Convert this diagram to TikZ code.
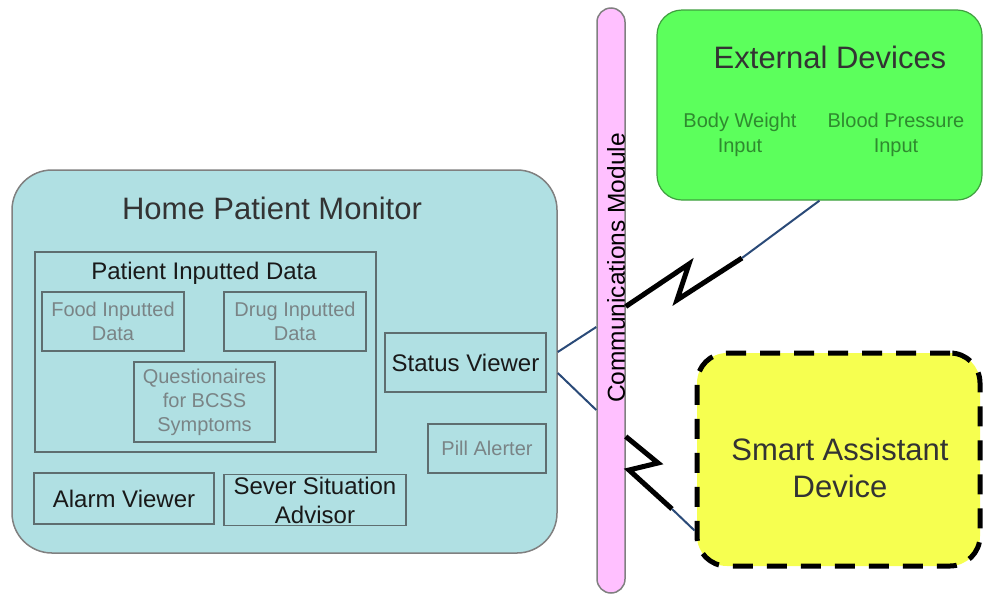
\documentclass[tikz,border=0pt]{standalone}
\usepackage{fontspec}
\setmainfont{Liberation Sans}
\usetikzlibrary{calc}
\definecolor{monfill}{HTML}{B0E0E3}
\definecolor{boxline}{HTML}{5E6E70}
\definecolor{softtext}{HTML}{7A8486}
\definecolor{commfill}{HTML}{FFC0FF}
\definecolor{extfill}{HTML}{5CFF5C}
\definecolor{extline}{HTML}{3F9F3F}
\definecolor{exttext}{HTML}{2F8A2F}
\definecolor{smartfill}{HTML}{F6FF50}
\definecolor{linkblue}{HTML}{2A4A78}
\tikzset{
  monbox/.style={draw=gray, line width=1.5pt, fill=monfill, rounded corners=40pt},
  partbox/.style={draw=boxline, line width=1.5pt, align=center, inner sep=0pt,
    text=black!90, font=\fontsize{24}{29}\selectfont},
  softbox/.style={partbox, text=softtext, font=\fontsize{20}{24}\selectfont},
  bigtitle/.style={text=black!80, font=\fontsize{31}{37}\selectfont},
  commbar/.style={draw=gray, line width=1.5pt, fill=commfill, rounded corners=14pt},
  extbox/.style={draw=extline, line width=1.2pt, fill=extfill, rounded corners=25pt},
  exttag/.style={text=exttext, align=center, font=\fontsize{20}{25}\selectfont},
  smartbox/.style={draw=black, line width=5pt, dash pattern=on 20pt off 14pt,
    fill=smartfill, rounded corners=30pt},
  link/.style={draw=linkblue, line width=2pt},
  bolt/.style={draw=black, line width=5pt, line join=miter},
  boltend/.style={draw=linkblue, line width=2pt}
}
\begin{document}
\begin{tikzpicture}[x=1pt, y=-1pt]
  \useasboundingbox (0,0) rectangle (984,595);
  % home patient monitor
  \node[monbox, minimum width=545pt, minimum height=383pt] (hpm) at (284.5,361.5) {};
  \node[bigtitle] (hpmtitle) at (272,208) {Home Patient Monitor};
  \node[partbox, minimum width=341pt, minimum height=200pt] (pid) at (205.5,352) {};
  \node[partbox, draw=none] (pidtitle) at (204,273) {Patient Inputted Data};
  \node[softbox, minimum width=142pt, minimum height=59pt] (food) at (113,321.5) {Food Inputted\\Data};
  \node[softbox, minimum width=142pt, minimum height=59pt] (drug) at (295,321.5) {Drug Inputted\\Data};
  \node[softbox, minimum width=141pt, minimum height=80pt] (quest) at (204.5,402) {Questionaires\\for BCSS\\Symptoms};
  \node[partbox, minimum width=161pt, minimum height=59pt] (status) at (465.5,362.5) {Status Viewer};
  \node[softbox, minimum width=118pt, minimum height=49pt] (pill) at (487,448.5) {Pill Alerter};
  \node[partbox, minimum width=180pt, minimum height=51pt] (alarm) at (124,498.5) {Alarm Viewer};
  \node[partbox, minimum width=182pt, minimum height=51pt] (sever) at (315,500) {Sever Situation\\Advisor};
  % communications module
  \node[commbar, minimum width=28pt, minimum height=585pt] (comm) at (611,300.5) {};
  \node[rotate=90, font=\fontsize{24.5}{28}\selectfont] (commtext) at (616,268) {Communications Module};
  % external devices
  \node[extbox, minimum width=325pt, minimum height=190pt] (ext) at (819.5,105) {};
  \node[bigtitle] (exttitle) at (830,57) {External Devices};
  \node[exttag] (weight) at (740,135) {Body Weight\\Input};
  \node[exttag] (pressure) at (896,135) {Blood Pressure\\Input};
  % smart assistant
  \node[smartbox, minimum width=283pt, minimum height=213pt] (smart) at (838.5,459.5) {};
  \node[bigtitle, align=center] (smarttext) at (840,468) {Smart Assistant\\Device};
  % wiring
  \draw[link] ([yshift=9.5pt]hpm.east) -- ([yshift=-26.5pt]comm.west);
  \draw[link] ([yshift=-11.5pt]hpm.east) -- ([yshift=-109.5pt]comm.west);
  \coordinate (up1) at (689,264);
  \coordinate (up2) at (677,300);
  \coordinate (up3) at (742,258);
  \draw[bolt] ([yshift=-6pt]comm.east) -- (up1) -- (up2) -- (up3);
  \draw[boltend] (up3) -- (ext.south);
  \coordinate (lo1) at (658,463);
  \coordinate (lo2) at (629,470);
  \coordinate (lo3) at (672,509);
  \draw[bolt] ([yshift=-136pt]comm.east) -- (lo1) -- (lo2) -- (lo3);
  \draw[boltend] (lo3) -- ([yshift=-71pt]smart.west);
\end{tikzpicture}
\end{document}
